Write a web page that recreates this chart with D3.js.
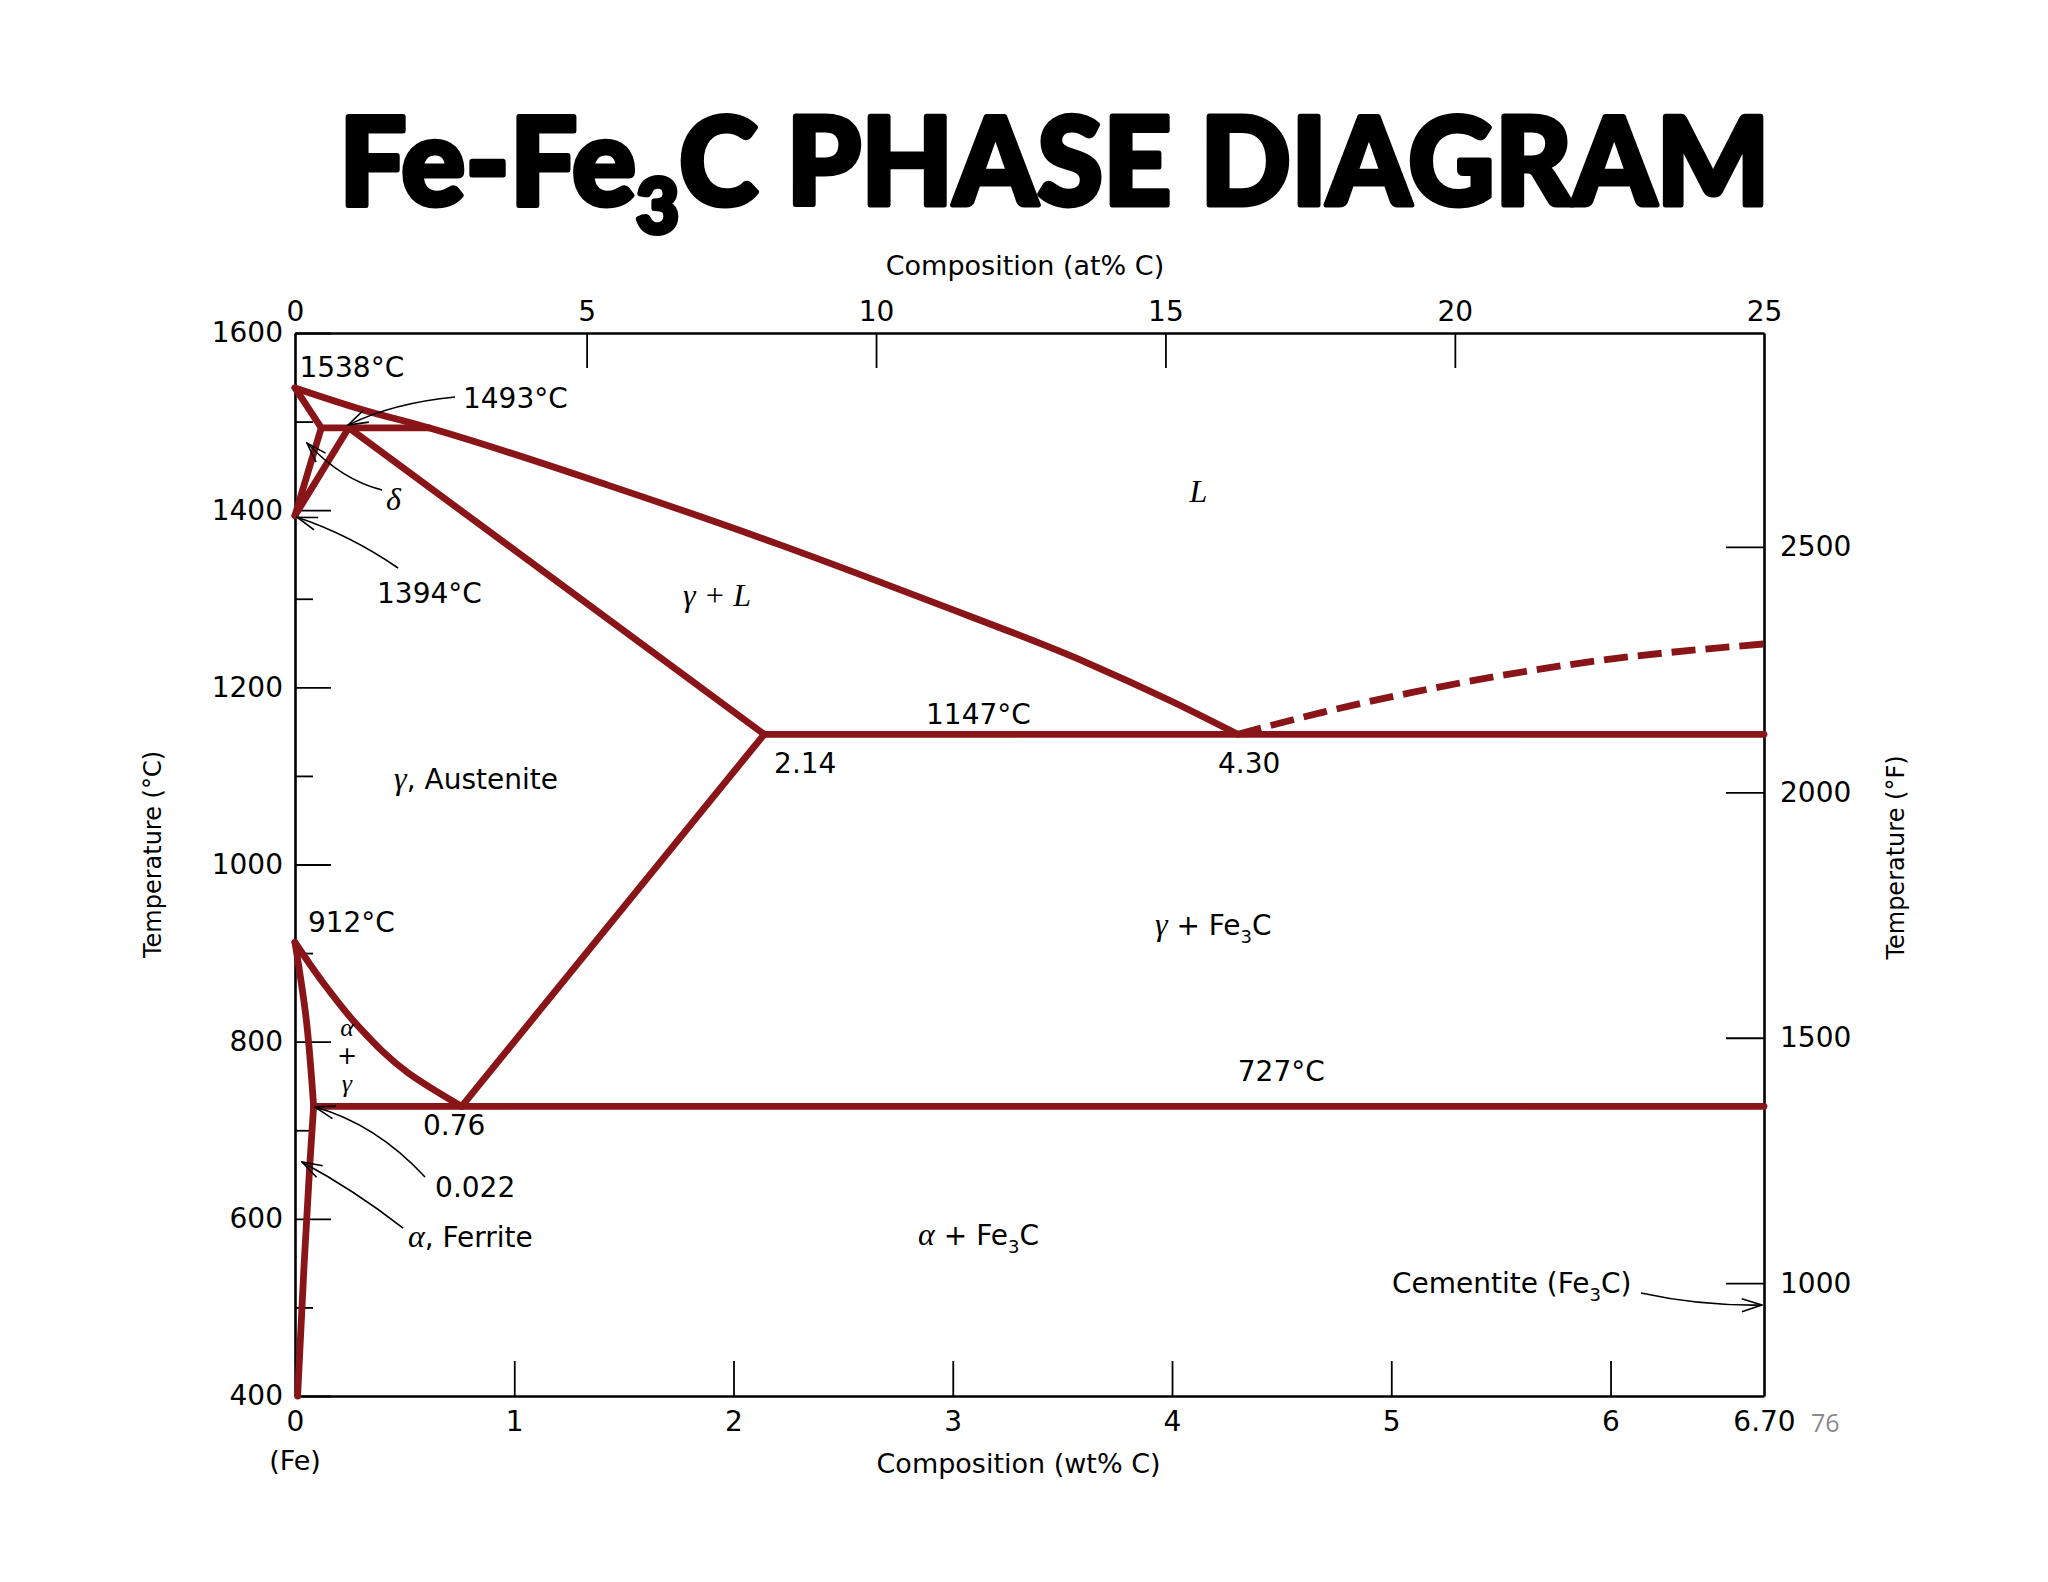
<!DOCTYPE html>
<html><head><meta charset="utf-8">
<script src="https://cdn.jsdelivr.net/npm/d3@7"></script>
<style>html,body{margin:0;padding:0;background:#fff;}svg{display:block;}</style>
</head><body>
<svg id="chart" width="2048" height="1582"></svg>
<script>
// ---------------- DATA ----------------
const wtTicks = [0, 1, 2, 3, 4, 5, 6, 6.70];
const tempMajorTicks = [400, 600, 800, 1000, 1200, 1400, 1600];
const tempMinorTicks = [500, 700, 900, 1100, 1300, 1500];
const atTicks = [0, 5, 10, 15, 20, 25];
const atTickWt = [0, 1.33, 2.65, 3.97, 5.29, 6.70];   // wt% position of each at% tick as drawn
const fTicks = [1000, 1500, 2000, 2500];
const fDomain = [770, 2936];                          // °F at bottom / top of the frame as drawn
const wtDomain = [0, 6.70];
const tempDomain = [400, 1600];

// phase boundaries [wt% C, °C]
const liquidus = [[0,1538],[0.3,1514],[0.61,1493],[1.43,1428],[2.2,1362],[2.9,1297],[3.61,1228],[4.0,1184],[4.30,1147]];
const deltaSolidus = [[0,1538],[0.12,1493]];
const deltaSolvus = [[0.12,1493],[0,1394]];
const deltaGamma = [[0.245,1493],[0,1394]];
const peritectic = [[0.12,1493],[0.61,1493]];
const gammaSolidus = [[0.245,1493],[2.14,1147]];
const eutectic = [[2.14,1147],[6.70,1147]];
const acm = [[2.14,1147],[0.76,727]];
const a3 = [[0,912],[0.13,866],[0.29,817],[0.515,765],[0.76,727]];
const alphaGamma = [[0,912],[0.05,828],[0.085,727]];
const alphaSolvus = [[0.085,727],[0.068,663],[0.041,546],[0.012,400]];
const eutectoid = [[0.085,727],[6.70,727]];
const cementiteLiquidus = [[4.30,1147],[4.69,1172],[5.09,1194],[5.91,1229],[6.70,1249]];

const solidLines = [liquidus, deltaSolidus, deltaSolvus, deltaGamma, peritectic, gammaSolidus,
                    eutectic, acm, a3, alphaGamma, alphaSolvus, eutectoid];
const dashedLines = [cementiteLiquidus];

// labels: position in [wt% C, °C]; parts: s = sans, g = greek/italic serif, b = subscript
const labels = [
  {at:[0.02,1550], parts:[["s","1538°C"]]},
  {at:[0.766,1515], parts:[["s","1493°C"]]},
  {at:[0.415,1400], parts:[["g","δ"]]},
  {at:[0.374,1295], parts:[["s","1394°C"]]},
  {at:[4.12,1409], parts:[["g","L"]], anchor:"middle"},
  {at:[1.925,1292], parts:[["g","γ + L"]], anchor:"middle"},
  {at:[2.878,1159], parts:[["s","1147°C"]]},
  {at:[2.185,1103], parts:[["s","2.14"]]},
  {at:[4.21,1103], parts:[["s","4.30"]]},
  {at:[0.452,1085], parts:[["g","γ"],["s",", Austenite"]]},
  {at:[0.059,924], parts:[["s","912°C"]]},
  {at:[3.922,920], parts:[["g","γ"],["s"," + Fe"],["b","3"],["s","C"]]},
  {at:[4.30,755.6], parts:[["s","727°C"]]},
  {at:[0.584,694.6], parts:[["s","0.76"]]},
  {at:[0.639,624.6], parts:[["s","0.022"]]},
  {at:[0.515,568.2], parts:[["g","α"],["s",", Ferrite"]]},
  {at:[2.842,570.4], parts:[["g","α"],["s"," + Fe"],["b","3"],["s","C"]]},
  {at:[5.003,516.2], parts:[["s","Cementite (Fe"],["b","3"],["s","C)"]]}
];
// stacked "α + γ" label: lines at these temperatures
const stackedAt = 0.237;
const stackedLines = [["g","α",806],["s","+",774.5],["g","γ",743]];

// leader arrows [wt% C, °C]
const leaders = [
  {from:[0.730,1527.7], ctrl:[0.447,1521], to:[0.242,1496]},
  {from:[0.397,1422.8], ctrl:[0.214,1434], to:[0.055,1475.8]},
  {from:[0.470,1334.7], ctrl:[0.251,1372], to:[0.01,1392]},
  {from:[0.593,647.2], ctrl:[0.369,707], to:[0.091,726.2]},
  {from:[0.493,589.6], ctrl:[0.269,632.5], to:[0.032,664.1]},
  {from:[6.139,516.2], ctrl:[6.408,501.6], to:[6.69,502.7]}
];

const titleParts = [["s","Fe-Fe"],["b","3"],["s","C PHASE DIAGRAM"]];
const topTitle = "Composition (at% C)";
const bottomTitle = "Composition (wt% C)";
const leftTitle = "Temperature (°C)";
const rightTitle = "Temperature (°F)";
const feLabel = "(Fe)";
const pageNumber = "76";

// ---------------- DRAW ----------------
const W = 2048, H = 1582;
const M = {left:295, right:1764, top:333, bottom:1396};
const RED = "#8a1519";
const SANS = "'DejaVu Sans', sans-serif";
const SERIF = "'Liberation Serif', 'DejaVu Serif', serif";

const svg = d3.select("#chart");
svg.append("rect").attr("width", W).attr("height", H).attr("fill", "#fff");

const x = d3.scaleLinear().domain(wtDomain).range([M.left, M.right]);
const y = d3.scaleLinear().domain(tempDomain).range([M.bottom, M.top]);
const xAt = d3.scaleLinear().domain(atTicks).range(atTickWt.map(x));
const yF = d3.scaleLinear().domain(fDomain).range([M.bottom, M.top]);

function styleAxis(g, fs) {
  g.attr("font-size", null).attr("font-family", null);
  g.select(".domain").attr("stroke", "#000").attr("stroke-width", 2.6);
  g.selectAll(".tick line").attr("stroke", "#000").attr("stroke-width", 1.8);
  g.selectAll(".tick text").attr("fill", "#000").style("font-family", SANS).style("font-size", fs + "px");
}

// left axis
const gL = svg.append("g").attr("transform", `translate(${M.left},0)`)
  .call(d3.axisLeft(y).tickValues(tempMajorTicks).tickFormat(d3.format("d"))
    .tickSizeInner(-36).tickSizeOuter(0).tickPadding(12));
styleAxis(gL, 28);
const gLm = svg.append("g").attr("transform", `translate(${M.left},0)`)
  .call(d3.axisLeft(y).tickValues(tempMinorTicks).tickFormat("").tickSizeInner(-18).tickSizeOuter(0));
gLm.select(".domain").remove();
gLm.selectAll(".tick line").attr("stroke", "#000").attr("stroke-width", 1.8);

// bottom axis
const gB = svg.append("g").attr("transform", `translate(0,${M.bottom})`)
  .call(d3.axisBottom(x).tickValues(wtTicks).tickFormat(d => d === 6.70 ? "6.70" : d3.format("d")(d))
    .tickSizeInner(-35).tickSizeOuter(0).tickPadding(15));
styleAxis(gB, 28);
gB.selectAll(".tick").filter(d => d === 0 || d === 6.70).select("line").remove();

// top axis
const gT = svg.append("g").attr("transform", `translate(0,${M.top})`)
  .call(d3.axisTop(xAt).tickValues(atTicks).tickFormat(d3.format("d"))
    .tickSizeInner(-35).tickSizeOuter(0).tickPadding(12));
styleAxis(gT, 28);
gT.selectAll(".tick").filter(d => d === 0 || d === 25).select("line").remove();

// right axis
const gR = svg.append("g").attr("transform", `translate(${M.right},0)`)
  .call(d3.axisRight(yF).tickValues(fTicks).tickFormat(d3.format("d"))
    .tickSizeInner(-38).tickSizeOuter(0).tickPadding(16));
styleAxis(gR, 28);

// phase boundaries
const line = d3.line().x(d => x(d[0])).y(d => y(d[1])).curve(d3.curveMonotoneY);
const lineX = d3.line().x(d => x(d[0])).y(d => y(d[1])).curve(d3.curveMonotoneX);
const gLines = svg.append("g");
gLines.selectAll("path.solid").data(solidLines).join("path").attr("class", "solid")
  .attr("d", d => (d === eutectic || d === eutectoid || d === peritectic || d === liquidus) ? lineX(d) : line(d))
  .attr("fill", "none").attr("stroke", RED).attr("stroke-width", 6.8)
  .attr("stroke-linecap", "round").attr("stroke-linejoin", "round");
gLines.selectAll("path.dash").data(dashedLines).join("path").attr("class", "dash")
  .attr("d", lineX).attr("fill", "none").attr("stroke", RED).attr("stroke-width", 6.8)
  .attr("stroke-dasharray", "24 10");

// arrow marker
const defs = svg.append("defs");
defs.append("marker").attr("id", "arr").attr("viewBox", "0 0 22 16").attr("refX", 21).attr("refY", 8)
  .attr("markerWidth", 22).attr("markerHeight", 16).attr("markerUnits", "userSpaceOnUse").attr("orient", "auto")
  .append("path").attr("d", "M1,1.5 L21,8 L1,14.5").attr("fill", "none").attr("stroke", "#000").attr("stroke-width", 1.6);

svg.append("g").selectAll("path").data(leaders).join("path")
  .attr("d", d => `M${x(d.from[0])},${y(d.from[1])} Q${x(d.ctrl[0])},${y(d.ctrl[1])} ${x(d.to[0])},${y(d.to[1])}`)
  .attr("fill", "none").attr("stroke", "#000").attr("stroke-width", 1.6).attr("marker-end", "url(#arr)");

// rich text helper
function richText(sel, parts, size, sansFam, weight) {
  let shifted = 0;
  parts.forEach(([k, t]) => {
    const ts = sel.append("tspan").text(t);
    if (k === "g") {
      ts.style("font-family", SERIF).style("font-style", "italic").style("font-size", (size + 4) + "px");
    } else if (k === "b") {
      ts.style("font-family", sansFam).style("font-size", Math.round(size * 0.66) + "px").attr("dy", size * 0.27);
      shifted = size * 0.27;
      if (weight) ts.style("font-weight", weight);
    } else {
      ts.style("font-family", sansFam).style("font-size", size + "px");
      if (weight) ts.style("font-weight", weight);
      if (shifted) { ts.attr("dy", -shifted); shifted = 0; }
    }
  });
}

const gLab = svg.append("g").attr("fill", "#000");
labels.forEach(l => {
  const t = gLab.append("text").attr("x", x(l.at[0])).attr("y", y(l.at[1]))
    .attr("text-anchor", l.anchor || "start");
  richText(t, l.parts, 28, SANS);
});
// stacked α + γ, one small text per line
stackedLines.forEach(([k, t, T]) => {
  const ts = gLab.append("text").attr("text-anchor", "middle").attr("x", x(stackedAt)).attr("y", y(T)).text(t);
  if (k === "g") ts.style("font-family", SERIF).style("font-style", "italic").style("font-size", "26px");
  else ts.style("font-family", SANS).style("font-size", "24px");
});

// axis titles
svg.append("text").attr("x", 1025).attr("y", 275)
  .attr("text-anchor", "middle").style("font-family", SANS).style("font-size", "27px").text(topTitle);
svg.append("text").attr("x", x(3.30)).attr("y", 1473)
  .attr("text-anchor", "middle").style("font-family", SANS).style("font-size", "27px").text(bottomTitle);
svg.append("text").attr("x", x(0)).attr("y", 1470)
  .attr("text-anchor", "middle").style("font-family", SANS).style("font-size", "27px").text(feLabel);
svg.append("text").attr("transform", `translate(161,${y(1000) - 10}) rotate(-90)`)
  .attr("text-anchor", "middle").style("font-family", SANS).style("font-size", "24px").text(leftTitle);
svg.append("text").attr("transform", `translate(1904,${y(1000) - 7}) rotate(-90)`)
  .attr("text-anchor", "middle").style("font-family", SANS).style("font-size", "24px").text(rightTitle);
svg.append("text").attr("x", x(6.70) + 47).attr("y", 1432)
  .style("font-family", "'Open Sans', 'DejaVu Sans', sans-serif").style("font-size", "25px").attr("fill", "#8a8a8a").text(pageNumber);

// title
const title = svg.append("text").attr("x", 0).attr("y", 205).attr("fill", "#000")
  .attr("stroke", "#000").attr("stroke-width", 5).attr("stroke-linejoin", "round");
richText(title, titleParts, 122, "Lato, 'Open Sans', 'DejaVu Sans', sans-serif", 900);
title.selectAll("tspan").filter((d, i) => i === 1).attr("dy", 28).style("font-size", "76px");
title.selectAll("tspan").filter((d, i) => i === 2).attr("dy", -28);
const bb = title.node().getBBox();
const targetL = 339, targetW = 1431;
const s = targetW / bb.width;
title.attr("transform", `translate(${targetL - bb.x * s},0) scale(${s},1)`);
</script>
</body></html>
